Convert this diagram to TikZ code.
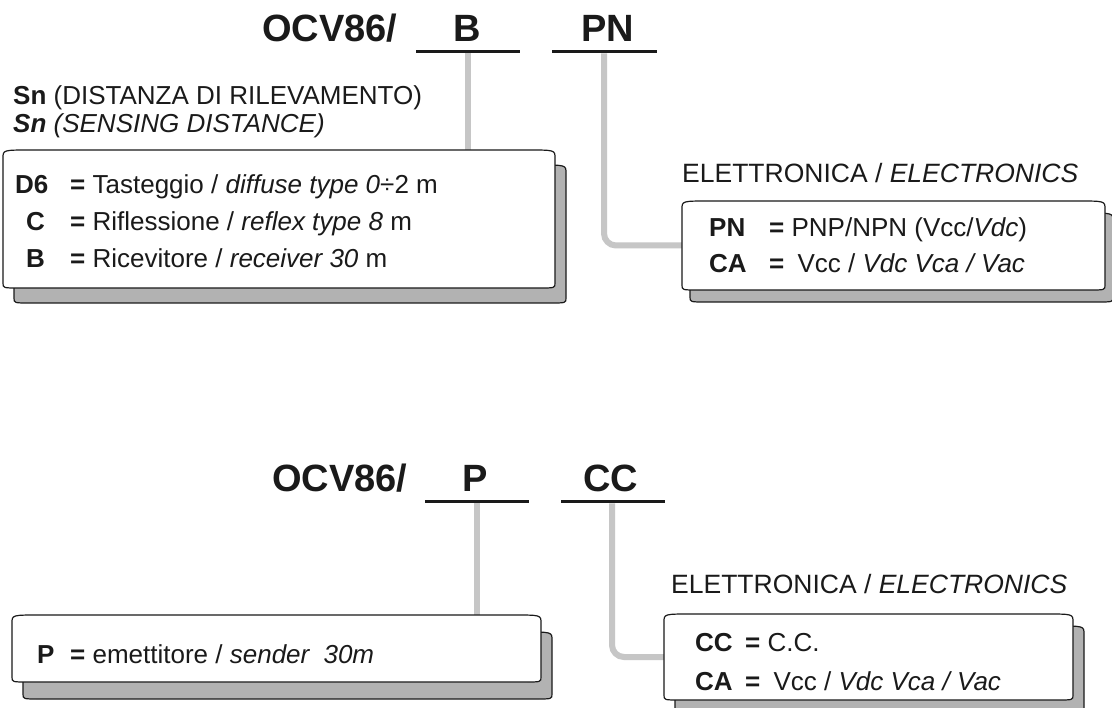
\documentclass[tikz,border=0pt]{standalone}
\usepackage{fontspec}
\setmainfont{Liberation Sans}
\usetikzlibrary{calc}
\definecolor{conn}{HTML}{C6C6C6}
\definecolor{shad}{HTML}{B2B2B2}
\definecolor{ink}{HTML}{1A1A1A}
\newcommand\fancyframe[4]{%
  \path[#2] let \p1=($(#1.north west)+(#3,#4)$), \p2=($(#1.south east)+(#3,#4)$) in
   (\x1,\y1-8pt) -- (\x1,\y2+5pt) .. controls (\x1,\y2) .. (\x1+16pt,\y2)
   -- (\x2-16pt,\y2) .. controls (\x2,\y2) .. (\x2,\y2+5pt)
   -- (\x2,\y1-8pt) .. controls (\x2,\y1) .. (\x2-28pt,\y1)
   -- (\x1+28pt,\y1) .. controls (\x1,\y1) .. (\x1,\y1-8pt) -- cycle;}
\tikzset{
  boxarea/.style={inner sep=0pt, outer sep=0pt},
  txt/.style={inner sep=0pt, anchor=base west, font=\fontsize{26}{30}\selectfont, text=ink},
  keytxt/.style={txt, font=\fontsize{26}{30}\selectfont\bfseries},
  title/.style={inner sep=0pt, anchor=base, font=\fontsize{38}{44}\selectfont\bfseries, text=ink},
  uline/.style={line width=3pt, draw=ink},
  connector/.style={line width=6pt, draw=conn, rounded corners=12pt},
  shadowpath/.style={fill=shad, draw=ink, line width=1.2pt},
  framepath/.style={fill=white, draw=ink, line width=1.2pt},
}
\begin{document}
\begin{tikzpicture}[x=1pt,y=-1pt]
\useasboundingbox[fill=white] (0,0) rectangle (1112,708);

% ---------- top group ----------
\node[title, anchor=base west] (t1) at (262,42) {OCV86/};
\node[title] (t1b) at (467,42) {B};
\node[title] (t1pn) at (608,42) {PN};
\coordinate (uB1) at (416,52);  \coordinate (uB2) at (520,52);
\coordinate (uPN1) at (552,52); \coordinate (uPN2) at (657,52);
\draw[uline] (uB1) -- (uB2);
\draw[uline] (uPN1) -- (uPN2);

\node[boxarea, minimum width=552pt, minimum height=138pt] (boxD) at (279,219) {};
\node[boxarea, minimum width=423pt, minimum height=89pt] (boxE) at (893.5,245.5) {};

\coordinate (cB) at (468,53.5);
\coordinate (cPN) at (604,53.5);
\draw[connector] (cB) -- (cB |- boxD.north);
\draw[connector] (cPN) |- (boxE.west);

\fancyframe{boxD}{shadowpath}{11}{15}
\fancyframe{boxD}{framepath}{0}{0}
\fancyframe{boxE}{shadowpath}{8}{12}
\fancyframe{boxE}{framepath}{0}{0}

\node[txt] (h1) at (13,105) {\textbf{Sn} (DISTANZA DI RILEVAMENTO)};
\node[txt] (h2) at (13,133) {\textbf{\textit{Sn}} \textit{(SENSING DISTANCE)}};

\node[keytxt] (kD6) at (15,194) {D6};
\node[txt] (vD6) at (70,194) {\textbf{=} Tasteggio / \textit{diffuse type 0}÷2 m};
\node[keytxt] (kC) at (26,231) {C};
\node[txt] (vC) at (70,231) {\textbf{=} Riflessione / \textit{reflex type 8} m};
\node[keytxt] (kB) at (26,268) {B};
\node[txt] (vB) at (70,268) {\textbf{=} Ricevitore / \textit{receiver 30} m};

\node[txt, font=\fontsize{26.5}{30}\selectfont] (e1) at (682,183) {ELETTRONICA / \textit{ELECTRONICS}};
\node[keytxt] (kPN) at (709,237) {PN};
\node[txt] (vPN) at (769,237) {\textbf{=} PNP/NPN (Vcc/\textit{Vdc})};
\node[keytxt] (kCA1) at (709,273) {CA};
\node[txt] (vCA1) at (769,273) {\textbf{=}\hspace{6pt} Vcc / \textit{Vdc Vca / Vac}};

% ---------- bottom group ----------
\node[title, anchor=base west] (t2) at (272,492) {OCV86/};
\node[title] (t2p) at (475,492) {P};
\node[title] (t2cc) at (611,492) {CC};
\coordinate (uP1) at (425,502);  \coordinate (uP2) at (529,502);
\coordinate (uCC1) at (561,502); \coordinate (uCC2) at (665,502);
\draw[uline] (uP1) -- (uP2);
\draw[uline] (uCC1) -- (uCC2);

\node[boxarea, minimum width=529pt, minimum height=67pt] (boxF) at (276.5,648.5) {};
\node[boxarea, minimum width=409pt, minimum height=86pt] (boxG) at (868.5,657) {};

\coordinate (cP) at (477,503.5);
\coordinate (cCC) at (612,503.5);
\draw[connector] (cP) -- (cP |- boxF.north);
\draw[connector] (cCC) |- (boxG.west);

\fancyframe{boxF}{shadowpath}{11}{17}
\fancyframe{boxF}{framepath}{0}{0}
\fancyframe{boxG}{shadowpath}{11}{12}
\fancyframe{boxG}{framepath}{0}{0}

\node[keytxt] (kP) at (37,663) {P};
\node[txt] (vP) at (70,663) {\textbf{=} emettitore / \textit{sender\hspace{7pt} 30m}};

\node[txt, font=\fontsize{26.5}{30}\selectfont] (e2) at (671,594) {ELETTRONICA / \textit{ELECTRONICS}};
\node[keytxt] (kCC) at (695,651) {CC};
\node[txt] (vCC) at (745,651) {\textbf{=} C.C.};
\node[keytxt] (kCA2) at (695,690) {CA};
\node[txt] (vCA2) at (745,690) {\textbf{=}\hspace{6pt} Vcc / \textit{Vdc Vca / Vac}};
\end{tikzpicture}
\end{document}
